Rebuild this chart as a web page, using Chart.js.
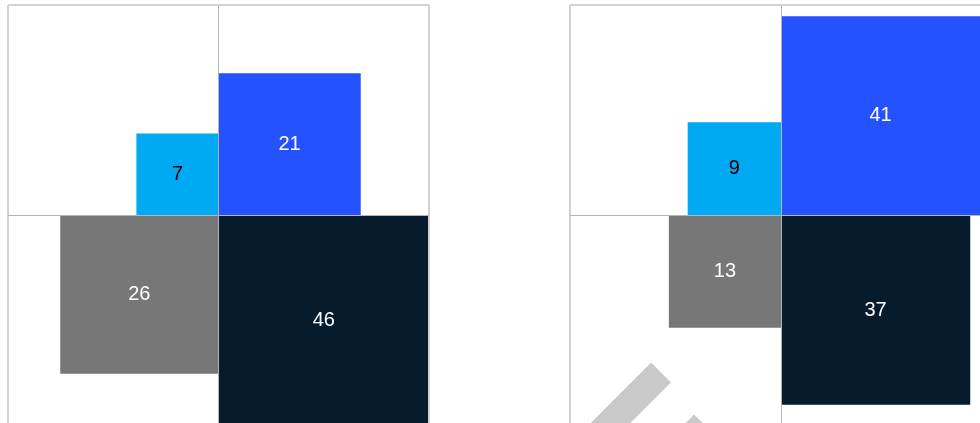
<!DOCTYPE html>
<html>
<head>
<meta charset="utf-8">
<title>Quadrant squares</title>
<script src="https://cdn.jsdelivr.net/npm/chart.js@4.4.1/dist/chart.umd.min.js"></script>
<style>
  html, body { margin: 0; padding: 0; background: #fff; }
  body { width: 980px; height: 423px; overflow: hidden; position: relative; }
  canvas { position: absolute; top: 0; }
  #panelA { left: 0; }
  #panelB { left: 562px; }
</style>
</head>
<body>
<canvas id="panelA" width="440" height="440"></canvas>
<canvas id="panelB" width="440" height="440"></canvas>
<script>
// quadrant order used by every array below
const quadrants = ['top-left', 'top-right', 'bottom-left', 'bottom-right'];
const panelAValues = [7, 21, 26, 46];
const panelBValues = [9, 41, 13, 37];

const quadrantColors = ['#00aaf2', '#2452ff', '#777777', '#061c2c'];
const labelColors = ['#000000', '#ffffff', '#ffffff', '#ffffff'];
const quadrantSigns = {
  'top-left': [-1, 1],
  'top-right': [1, 1],
  'bottom-left': [-1, -1],
  'bottom-right': [1, -1],
};

// squares are sized by area, so the side is sqrt(value)
const maxSide = Math.sqrt(Math.max(...panelAValues, ...panelBValues));

function squareDatasets(values) {
  return values.map((v, i) => {
    const [sx, sy] = quadrantSigns[quadrants[i]];
    const s = Math.sqrt(v);
    return {
      label: quadrants[i],
      value: v,
      data: [
        { x: 0, y: 0 },
        { x: sx * s, y: 0 },
        { x: sx * s, y: sy * s },
        { x: 0, y: sy * s },
        { x: 0, y: 0 },
      ],
      showLine: true,
      fill: 'shape',
      backgroundColor: quadrantColors[i],
      borderWidth: 0,
      pointRadius: 0,
      pointHoverRadius: 0,
      tension: 0,
    };
  });
}

const valueLabels = {
  id: 'valueLabels',
  afterDraw(chart) {
    const { ctx } = chart;
    const { x, y } = chart.scales;
    ctx.save();
    ctx.font = '20px "Liberation Sans", Arial, sans-serif';
    ctx.textAlign = 'center';
    ctx.textBaseline = 'middle';
    chart.data.datasets.forEach((ds, i) => {
      const corner = ds.data[2];
      ctx.fillStyle = labelColors[i];
      ctx.fillText(String(ds.value), x.getPixelForValue(corner.x / 2), y.getPixelForValue(corner.y / 2));
    });
    ctx.restore();
  },
};

// faint diagonal watermark strokes seen in the second panel
const watermark = {
  id: 'watermark',
  beforeDatasetsDraw(chart) {
    const { ctx, chartArea } = chart;
    const starts = [[91, 368], [134, 420]];
    ctx.save();
    ctx.strokeStyle = '#c9c9c9';
    ctx.lineWidth = 28;
    ctx.lineCap = 'butt';
    starts.forEach(([dx, dy]) => {
      const x0 = chartArea.left + dx;
      const y0 = chartArea.top + dy;
      ctx.beginPath();
      ctx.moveTo(x0, y0);
      ctx.lineTo(x0 - 120, y0 + 120);
      ctx.stroke();
    });
    ctx.restore();
  },
};

function axis() {
  return {
    type: 'linear',
    min: -maxSide,
    max: maxSide,
    afterBuildTicks: (scale) => {
      scale.ticks = [{ value: -maxSide }, { value: 0 }, { value: maxSide }];
    },
    ticks: { display: false },
    border: { display: false },
    grid: {
      z: 1,
      drawTicks: false,
      color: (c) => (c.tick && c.tick.value === 0 ? '#b4b4b4' : '#d2d2d2'),
      lineWidth: (c) => (c.tick && c.tick.value === 0 ? 1 : 2),
    },
  };
}

function makePanel(id, values, padding, extraPlugins) {
  return new Chart(document.getElementById(id), {
    type: 'scatter',
    data: { datasets: squareDatasets(values) },
    options: {
      responsive: false,
      animation: false,
      events: [],
      layout: { padding },
      scales: { x: axis(), y: axis() },
      plugins: {
        legend: { display: false },
        tooltip: { enabled: false },
      },
    },
    plugins: [valueLabels, ...extraPlugins],
  });
}

makePanel('panelA', panelAValues, { left: 8, top: 5, right: 11, bottom: 14 }, []);
makePanel('panelB', panelBValues, { left: 8, top: 4.5, right: 10, bottom: 13.5 }, [watermark]);
</script>
</body>
</html>
